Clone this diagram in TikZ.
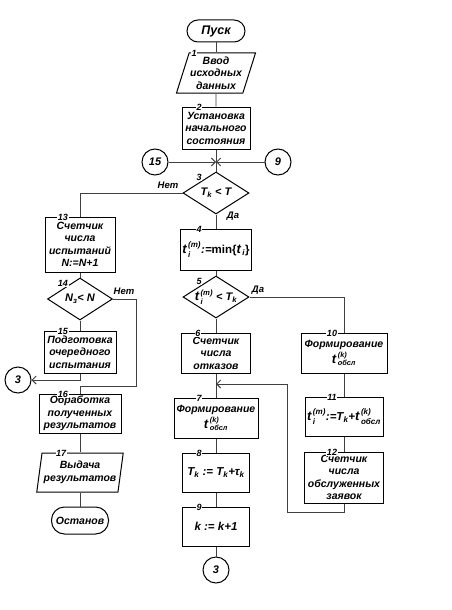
\documentclass[tikz,border=0pt]{standalone}
\usepackage{fontspec}
\setmainfont{Liberation Sans}
\usepackage{amsmath}
\usetikzlibrary{shapes.geometric,arrows.meta}

\newcommand{\mtx}[1]{\text{#1}}
\newcommand{\bigt}{\mtx{\fontsize{13}{13}\selectfont t\kern1.5pt}}

\tikzset{
    base/.style={draw, line width=1pt, align=center, inner sep=1pt,
        font=\bfseries\itshape\fontsize{10.5}{12.5}\selectfont},
    proc/.style={base, rectangle},
    io/.style={base, trapezium, trapezium stretches=true},
    term/.style={base, rectangle, rounded corners=11pt},
    dec/.style={draw, line width=1pt, diamond, minimum width=66pt, minimum height=42pt, inner sep=0pt},
    dectext/.style={inner sep=0pt, font=\bfseries\itshape\fontsize{11}{12}\selectfont},
    formula/.style={font=\bfseries\itshape\fontsize{11.5}{13}\selectfont},
    conn/.style={base, circle, minimum size=26pt, inner sep=0pt, font=\bfseries\itshape\fontsize{11}{12}\selectfont},
    num/.style={fill=white, inner sep=0.5pt, font=\bfseries\itshape\fontsize{9}{9}\selectfont},
    yesno/.style={inner sep=0pt, font=\bfseries\itshape\fontsize{9.5}{9.5}\selectfont},
    wire/.style={line width=0.7pt, draw=black!75},
    arr/.style={wire, -{Straight Barb[length=4pt,width=8pt,line width=1pt]}},
}

\begin{document}
\begin{tikzpicture}[x=1pt, y=-1pt]
    \useasboundingbox (0,0) rectangle (452,610);
    % main column
    \node[term, minimum width=58pt, minimum height=22pt, font=\bfseries\itshape\fontsize{12.5}{12.5}\selectfont] (start) at (216,31) {Пуск};
    \node[io, trapezium left angle=70, trapezium right angle=110, minimum width=74pt, minimum height=40pt,
        label={[num, xshift=-22pt, yshift=-4.5pt]north:1}] (io1) at (216,73) {Ввод\\исходных\\данных};
    \node[proc, minimum width=68pt, minimum height=42pt,
        label={[num, xshift=-17pt, yshift=-4.5pt]north:2}] (b2) at (216,128) {Установка\\начального\\состояния};
    \coordinate (jn) at (216,162);
    \node[conn] (c15) at (155,162) {15};
    \node[conn] (c9) at (278,162) {9};
    \node[dec, label={[num, xshift=-17pt, yshift=-10pt]north:3}] (d3) at (216,193) {};
    \node[dectext] (t3) at (d3) {$\mtx{T}_{\mtx{k}}\mtx{ < T}$};
    \node[proc, formula, minimum width=71pt, minimum height=41pt,
        label={[num, xshift=-17pt, yshift=-4.5pt]north:4}] (b4) at (216,249.5)
        {$\bigt_{\mtx{i}}^{\mtx{(m)}}\mtx{:=\upshape min\{}\bigt_{\mtx{i}}\mtx{\upshape\}}$};
    \node[dec, label={[num, xshift=-17pt, yshift=-10pt]north:5}] (d5) at (216,297) {};
    \node[dectext] (t5) at (d5) {$\bigt_{\mtx{i}}^{\mtx{(m)}}\mtx{ < T}_{\mtx{k}}$};
    \node[proc, minimum width=69pt, minimum height=40pt,
        label={[num, xshift=-18pt, yshift=-4.5pt]north:6}] (b6) at (216,353) {Счетчик\\числа\\отказов};
    \coordinate (j7) at (216,384);
    \node[proc, minimum width=84pt, minimum height=40pt,
        label={[num, xshift=-17pt, yshift=-4.5pt]north:7}] (b7) at (216,418)
        {Формирование\\[1pt]$\bigt^{\mtx{(k)}}_{\mtx{обсл}}$};
    \node[proc, formula, minimum width=67pt, minimum height=39pt,
        label={[num, xshift=-17pt, yshift=-4.5pt]north:8}] (b8) at (216,472.5)
        {$\mtx{T}_{\mtx{k}}\mtx{ := T}_{\mtx{k}}\mtx{+τ}_{\mtx{k}}$};
    \node[proc, formula, minimum width=67pt, minimum height=39pt,
        label={[num, xshift=-17pt, yshift=-4.5pt]north:9}] (b9) at (216,526.5) {\textit{k} := \textit{k}+1};
    \node[conn] (c3) at (216,570) {3};
    % right column
    \node[proc, minimum width=86pt, minimum height=40pt,
        label={[num, xshift=-12pt, yshift=-4.5pt]north:10}] (b10) at (344,353)
        {Формирование\\[1pt]$\bigt^{\mtx{(k)}}_{\mtx{обсл}}$};
    \node[proc, formula, minimum width=78pt, minimum height=39pt,
        label={[num, xshift=-12pt, yshift=-4.5pt]north:11}] (b11) at (344,416.5)
        {$\bigt_{\mtx{i}}^{\mtx{(m)}}\mtx{:=T}_{\mtx{k}}\mtx{+}\bigt^{\mtx{(k)}}_{\mtx{обсл}}$};
    \node[proc, minimum width=79pt, minimum height=51pt,
        label={[num, xshift=-12pt, yshift=-4.5pt]north:12}] (b12) at (344,477.5)
        {Счетчик\\числа\\обслуженных\\заявок};
    \coordinate (lp) at (287,512);
    % left column
    \node[proc, minimum width=70pt, minimum height=55pt,
        label={[num, xshift=-17pt, yshift=-4.5pt]north:13}] (b13) at (80,244.5)
        {Счетчик\\числа\\испытаний\\\textit{N}:=\textit{N}+1};
    \node[dec, minimum width=65pt, label={[num, xshift=-17pt, yshift=-10pt]north:14}] (d14) at (80,299) {};
    \node[dectext] (t14) at (d14) {$\mtx{N}_{\mtx{з}}\mtx{< N}$};
    \node[proc, minimum width=72pt, minimum height=42pt,
        label={[num, xshift=-17pt, yshift=-4.5pt]north:15}] (b15) at (80,352)
        {Подготовка\\очередного\\испытания};
    \node[conn] (c3l) at (18,380) {3};
    \coordinate (nt) at (136,386);
    \node[proc, minimum width=82pt, minimum height=39pt,
        label={[num, xshift=-17pt, yshift=-4.5pt]north:16}] (b16) at (80,413.5)
        {Обработка\\полученных\\результатов};
    \node[io, trapezium left angle=78, trapezium right angle=102, minimum width=87pt, minimum height=39pt,
        label={[num, xshift=-19pt, yshift=-4.5pt]north:17}] (io17) at (80,472.5) {Выдача\\результатов};
    \node[term, minimum width=57pt, minimum height=27pt, rounded corners=13pt] (stop) at (80,520.5) {Останов};
    % yes / no
    \node[yesno] (no3) at (168,185) {Нет};
    \node[yesno] (yes3) at (233,216) {Да};
    \node[yesno] (yes5) at (258,290) {Да};
    \node[yesno] (no14) at (124,291) {Нет};
    % wires
    \draw[wire] (start) -- (io1);
    \draw[wire] (io1) -- (b2);
    \draw[wire] (b2) -- (d3);
    \draw[arr] (c15) -- (jn);
    \draw[arr] (c9) -- (jn);
    \draw[wire] (d3) -- (b4);
    \draw[wire] (d3.west) -| (b13.north);
    \draw[wire] (b4) -- (d5);
    \draw[wire] (d5) -- (b6);
    \draw[wire] (b6) -- (b7);
    \draw[wire] (b7) -- (b8);
    \draw[wire] (b8) -- (b9);
    \draw[wire] (b9) -- (c3);
    \draw[wire] (d5.east) -| (b10.north);
    \draw[wire] (b10) -- (b11);
    \draw[wire] (b11) -- (b12);
    \draw[arr] (b12.south) |- (lp) |- (j7);
    \draw[wire] (b13) -- (d14);
    \draw[wire] (d14) -- (b15);
    \draw[wire] (d14.east) -| (nt) -| (b16.north);
    \draw[arr] (b15.south) |- (c3l.east);
    \draw[wire] (b16) -- (io17);
    \draw[wire] (io17) -- (stop);
\end{tikzpicture}
\end{document}
